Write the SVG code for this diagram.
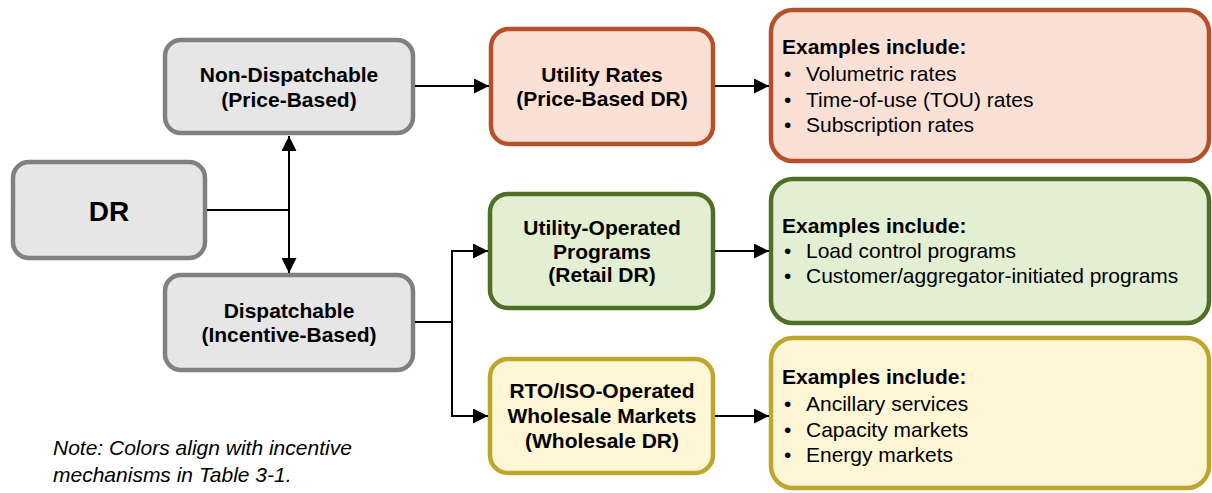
<svg xmlns="http://www.w3.org/2000/svg" width="1212" height="493" viewBox="0 0 1212 493">
<defs>
<marker id="ah" viewBox="0 0 10 10" refX="10" refY="5" markerWidth="15" markerHeight="15" markerUnits="userSpaceOnUse" orient="auto">
<path d="M0,0 L10,5 L0,10 z" fill="#000"/>
</marker>
<style>
.box{stroke-width:4.5}
.gray{fill:#e6e6e6;stroke:#808080}
.red{fill:#fbe0d6;stroke:#b5502a}
.green{fill:#e3efd3;stroke:#4f6f26}
.yellow{fill:#fef6d5;stroke:#bea52c}
.t{font-family:"Liberation Sans",Arial,sans-serif;font-size:21px;fill:#000}
.b{font-weight:bold}
.c{text-anchor:middle}
.conn{stroke:#000;stroke-width:2;fill:none}
</style>
</defs>
<rect width="1212" height="493" fill="#fff"/>
<g id="dr">
<rect class="box gray" x="13" y="162" width="192" height="96" rx="16"/>
<text class="t b c" x="109" y="221" style="font-size:28px">DR</text>
</g>
<g id="nondispatchable">
<rect class="box gray" x="165" y="40" width="248" height="93" rx="16"/>
<text class="t b c" x="289" y="82">Non-Dispatchable</text>
<text class="t b c" x="289" y="107">(Price-Based)</text>
</g>
<g id="dispatchable">
<rect class="box gray" x="165" y="275" width="248" height="95" rx="16"/>
<text class="t b c" x="289" y="318">Dispatchable</text>
<text class="t b c" x="289" y="342">(Incentive-Based)</text>
</g>
<g id="utilityrates">
<rect class="box red" x="491" y="29" width="222" height="115" rx="18"/>
<text class="t b c" x="602" y="82">Utility Rates</text>
<text class="t b c" x="602" y="106">(Price-Based DR)</text>
</g>
<g id="utilityoperated">
<rect class="box green" x="490" y="194" width="223" height="114" rx="18"/>
<text class="t b c" x="602" y="235">Utility-Operated</text>
<text class="t b c" x="602" y="259">Programs</text>
<text class="t b c" x="602" y="282">(Retail DR)</text>
</g>
<g id="rtoiso">
<rect class="box yellow" x="490" y="359" width="223" height="114" rx="18"/>
<text class="t b c" x="602" y="398">RTO/ISO-Operated</text>
<text class="t b c" x="602" y="423">Wholesale Markets</text>
<text class="t b c" x="602" y="448">(Wholesale DR)</text>
</g>
<g id="examples-rates">
<rect class="box red" x="771" y="10" width="438" height="151" rx="22"/>
<text class="t b" x="782" y="54">Examples include:</text>
<text class="t" x="784" y="81">•</text><text class="t" x="806" y="81">Volumetric rates</text>
<text class="t" x="784" y="107">•</text><text class="t" x="806" y="107">Time-of-use (TOU) rates</text>
<text class="t" x="784" y="132">•</text><text class="t" x="806" y="132">Subscription rates</text>
</g>
<g id="examples-retail">
<rect class="box green" x="771" y="179" width="438" height="144" rx="22"/>
<text class="t b" x="782" y="233">Examples include:</text>
<text class="t" x="784" y="258">•</text><text class="t" x="806" y="258">Load control programs</text>
<text class="t" x="784" y="283">•</text><text class="t" x="806" y="283">Customer/aggregator-initiated programs</text>
</g>
<g id="examples-wholesale">
<rect class="box yellow" x="771" y="338" width="438" height="150" rx="22"/>
<text class="t b" x="782" y="384">Examples include:</text>
<text class="t" x="784" y="411">•</text><text class="t" x="806" y="411">Ancillary services</text>
<text class="t" x="784" y="437">•</text><text class="t" x="806" y="437">Capacity markets</text>
<text class="t" x="784" y="462">•</text><text class="t" x="806" y="462">Energy markets</text>
</g>
<g id="note">
<text class="t" x="53" y="455" style="font-style:italic">Note: Colors align with incentive</text>
<text class="t" x="53" y="482" style="font-style:italic">mechanisms in Table 3-1.</text>
</g>
<g id="connectors">
<path class="conn" d="M207,210 H289"/>
<path class="conn" d="M289,210 V136" marker-end="url(#ah)"/>
<path class="conn" d="M289,210 V273" marker-end="url(#ah)"/>
<path class="conn" d="M415,86 H489" marker-end="url(#ah)"/>
<path class="conn" d="M715,86 H769" marker-end="url(#ah)"/>
<path class="conn" d="M415,322 H452"/>
<path class="conn" d="M452,322 V251 H488" marker-end="url(#ah)"/>
<path class="conn" d="M452,322 V416 H488" marker-end="url(#ah)"/>
<path class="conn" d="M715,251 H769" marker-end="url(#ah)"/>
<path class="conn" d="M715,416 H769" marker-end="url(#ah)"/>
</g>
</svg>
